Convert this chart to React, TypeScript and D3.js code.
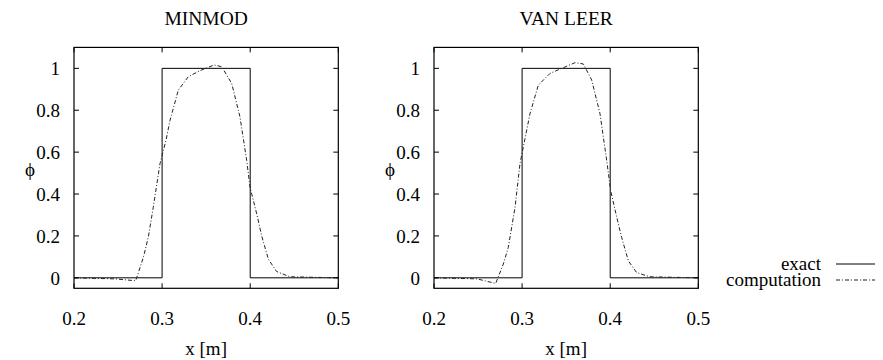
import React from "react";
import * as d3 from "d3";

const titles = ["MINMOD", "VAN LEER"];
const xTicks = [0.2, 0.3, 0.4, 0.5];
const yTicks = [0, 0.2, 0.4, 0.6, 0.8, 1];
const yTickLabels = ["0", "0.2", "0.4", "0.6", "0.8", "1"];
const xTickLabels = ["0.2", "0.3", "0.4", "0.5"];

const exactX = [0.2, 0.3, 0.3, 0.4, 0.4, 0.5];
const exactY = [0, 0, 1, 1, 0, 0];

const minmodX = [0.2, 0.2465, 0.27, 0.2787, 0.2843, 0.29, 0.2976, 0.3044, 0.309, 0.3184, 0.3297, 0.343, 0.359, 0.3676, 0.379, 0.3884, 0.396, 0.3998, 0.4074, 0.413, 0.4206, 0.43, 0.445, 0.5];
const minmodY = [0, -0.005, -0.014, 0.097, 0.193, 0.337, 0.545, 0.656, 0.752, 0.896, 0.96, 0.989, 1.016, 1.008, 0.928, 0.768, 0.561, 0.433, 0.305, 0.201, 0.089, 0.03, 0.005, 0];

const vanleerX = [0.2, 0.2489, 0.27, 0.2787, 0.2843, 0.292, 0.2976, 0.309, 0.3184, 0.3317, 0.345, 0.36, 0.3695, 0.379, 0.3884, 0.396, 0.4005, 0.4074, 0.413, 0.4206, 0.43, 0.445, 0.5];
const vanleerY = [0, -0.005, -0.027, 0.066, 0.145, 0.337, 0.545, 0.784, 0.92, 0.976, 1.0, 1.027, 1.021, 0.944, 0.784, 0.561, 0.417, 0.289, 0.193, 0.081, 0.025, 0.005, 0];

const legendLabels = ["exact", "computation"];

const W = 883;
const H = 360;

function Panel({ left, title, cx, cy }: { left: number; title: string; cx: number[]; cy: number[] }) {
  const x = d3.scaleLinear().domain([0.2, 0.5]).range([left, left + 264.3]);
  const y = d3.scaleLinear().domain([-0.05, 1.1]).range([288.3, 47.4]);
  const line = d3
    .line<[number, number]>()
    .x((d) => x(d[0]))
    .y((d) => y(d[1]));
  const exact = line(exactX.map((v, i) => [v, exactY[i]]) as [number, number][]) || "";
  const comp = line(cx.map((v, i) => [v, cy[i]]) as [number, number][]) || "";
  const [x0, x1] = x.range();
  const [y0, y1] = y.range();
  const tl = 5;
  return (
    <g>
      <text x={(x0 + x1) / 2} y={25} textAnchor="middle" fontSize={19.5}>
        {title}
      </text>
      <path d={exact} fill="none" stroke="#000" strokeWidth={1} />
      <path d={comp} fill="none" stroke="#222" strokeWidth={1} strokeDasharray="4,2,1,2" />
      {xTicks.map((t, i) => (
        <g key={"x" + i}>
          <line x1={x(t)} x2={x(t)} y1={y0} y2={y0 - tl} stroke="#000" />
          <line x1={x(t)} x2={x(t)} y1={y1} y2={y1 + tl} stroke="#000" />
          <text x={x(t)} y={325} textAnchor="middle" fontSize={19}>
            {xTickLabels[i]}
          </text>
        </g>
      ))}
      {yTicks.map((t, i) => (
        <g key={"y" + i}>
          <line x1={x0} x2={x0 + tl} y1={y(t)} y2={y(t)} stroke="#000" />
          <line x1={x1} x2={x1 - tl} y1={y(t)} y2={y(t)} stroke="#000" />
          <text x={x0 - 14} y={y(t) + 7} textAnchor="end" fontSize={19}>
            {yTickLabels[i]}
          </text>
        </g>
      ))}
      <rect x={x0} y={y1} width={x1 - x0} height={y0 - y1} fill="none" stroke="#000" strokeWidth={1.2} />
      <text x={x0 - 44} y={176} textAnchor="middle" fontSize={19}>
        ϕ
      </text>
      <text x={(x0 + x1) / 2} y={355} textAnchor="middle" fontSize={19}>
        x [m]
      </text>
    </g>
  );
}

export default function App() {
  return (
    <svg width={W} height={H} fontFamily="Liberation Serif" style={{ display: "block", margin: "-8px 0 0 -8px" }}>
      <style>{`svg text { font-family: "Liberation Serif", serif !important; }`}</style>
      <rect width={W} height={H} fill="#fff" />
      <Panel left={74} title={titles[0]} cx={minmodX} cy={minmodY} />
      <Panel left={434} title={titles[1]} cx={vanleerX} cy={vanleerY} />
      <g>
        <text x={821} y={270} textAnchor="end" fontSize={19}>
          {legendLabels[0]}
        </text>
        <line x1={836} x2={883} y1={264} y2={264} stroke="#000" strokeWidth={1} />
        <text x={821} y={285.5} textAnchor="end" fontSize={19}>
          {legendLabels[1]}
        </text>
        <line x1={836} x2={883} y1={280} y2={280} stroke="#222" strokeWidth={1} strokeDasharray="4,2,1,2" />
      </g>
    </svg>
  );
}
